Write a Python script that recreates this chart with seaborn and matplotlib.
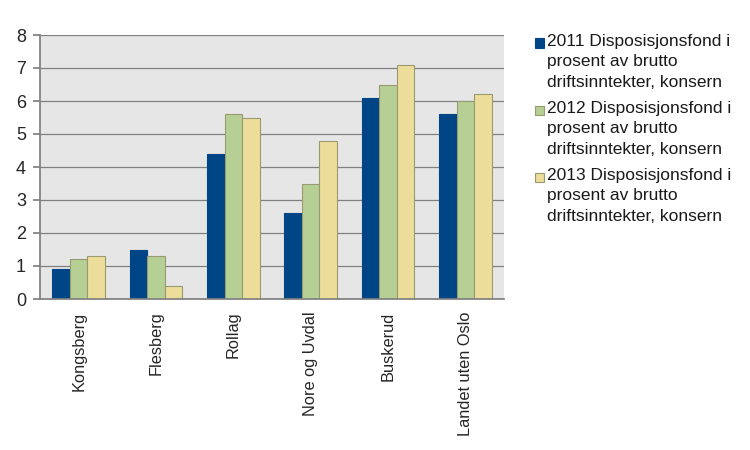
import matplotlib
matplotlib.use("Agg")
import matplotlib.pyplot as plt
from matplotlib.patches import Rectangle
import seaborn as sns
import pandas as pd
import numpy as np

categories = ["Kongsberg", "Flesberg", "Rollag", "Nore og Uvdal", "Buskerud", "Landet uten Oslo"]
series_names = [
    "2011 Disposisjonsfond i\nprosent av brutto\ndriftsinntekter, konsern",
    "2012 Disposisjonsfond i\nprosent av brutto\ndriftsinntekter, konsern",
    "2013 Disposisjonsfond i\nprosent av brutto\ndriftsinntekter, konsern",
]
v2011 = [0.9, 1.5, 4.4, 2.6, 6.1, 5.6]
v2012 = [1.2, 1.3, 5.6, 3.5, 6.5, 6.0]
v2013 = [1.3, 0.4, 5.5, 4.8, 7.1, 6.2]
colors = ["#004586", "#b5cf94", "#ecdd9b"]
edges = ["#004586", "#9a9a70", "#9a9a70"]

rows = []
for name, vals in zip(series_names, [v2011, v2012, v2013]):
    for c, v in zip(categories, vals):
        rows.append({"kommune": c, "serie": name, "verdi": v})
df = pd.DataFrame(rows)

sns.set_theme(style="white")
plt.rcParams["font.family"] = ["Liberation Sans", "DejaVu Sans"]

W, H = 750, 450
fig = plt.figure(figsize=(7.5, 4.5), dpi=100)
ax = fig.add_axes([40/W, 1-299/H, (504-40)/W, (299-35)/H])
ax.set_facecolor("#e6e6e6")

sns.barplot(data=df, x="kommune", y="verdi", hue="serie", order=categories,
            hue_order=series_names, palette=colors, width=0.68, ax=ax,
            linewidth=0.8, saturation=1, legend=False)
for i, cont in enumerate(ax.containers):
    for p in cont:
        p.set_edgecolor(edges[i])

ax.set_ylim(0, 8)
ax.set_xlim(-0.5, len(categories) - 0.5)
ax.set_yticks(range(0, 9))
ax.yaxis.grid(True, color="#808080", linewidth=0.9)
ax.set_axisbelow(True)
ax.set_xlabel("")
ax.set_ylabel("")
ax.set_xticks(range(len(categories)))
ax.set_xticklabels(categories, rotation=90, fontsize=11.8)
ax.tick_params(axis="x", length=0, pad=9)
ax.set_xticks(np.arange(-0.5, len(categories)), minor=True)
ax.tick_params(axis="x", which="minor", length=5, color="#808080", direction="out")
ax.tick_params(axis="y", labelsize=13, length=5, color="#808080", direction="out", pad=5, left=True)
for s in ["top", "right"]:
    ax.spines[s].set_visible(False)
for s in ["left", "bottom"]:
    ax.spines[s].set_color("#808080")

# legend with square aligned to first line of each label
for i, (name, col, ec) in enumerate(zip(series_names, colors, edges)):
    yc = 43 + 67 * i
    fig.patches.append(Rectangle((535/W, 1-(yc+4.5)/H), 9/W, 9/H, transform=fig.transFigure,
                                 facecolor=col, edgecolor=ec, linewidth=0.8))
    fig.text(547/W, 1-(yc-9)/H, name, ha="left", va="top", fontsize=12.5,
             linespacing=1.45, color="#1a1a1a")

fig.savefig("out.png", dpi=100)
